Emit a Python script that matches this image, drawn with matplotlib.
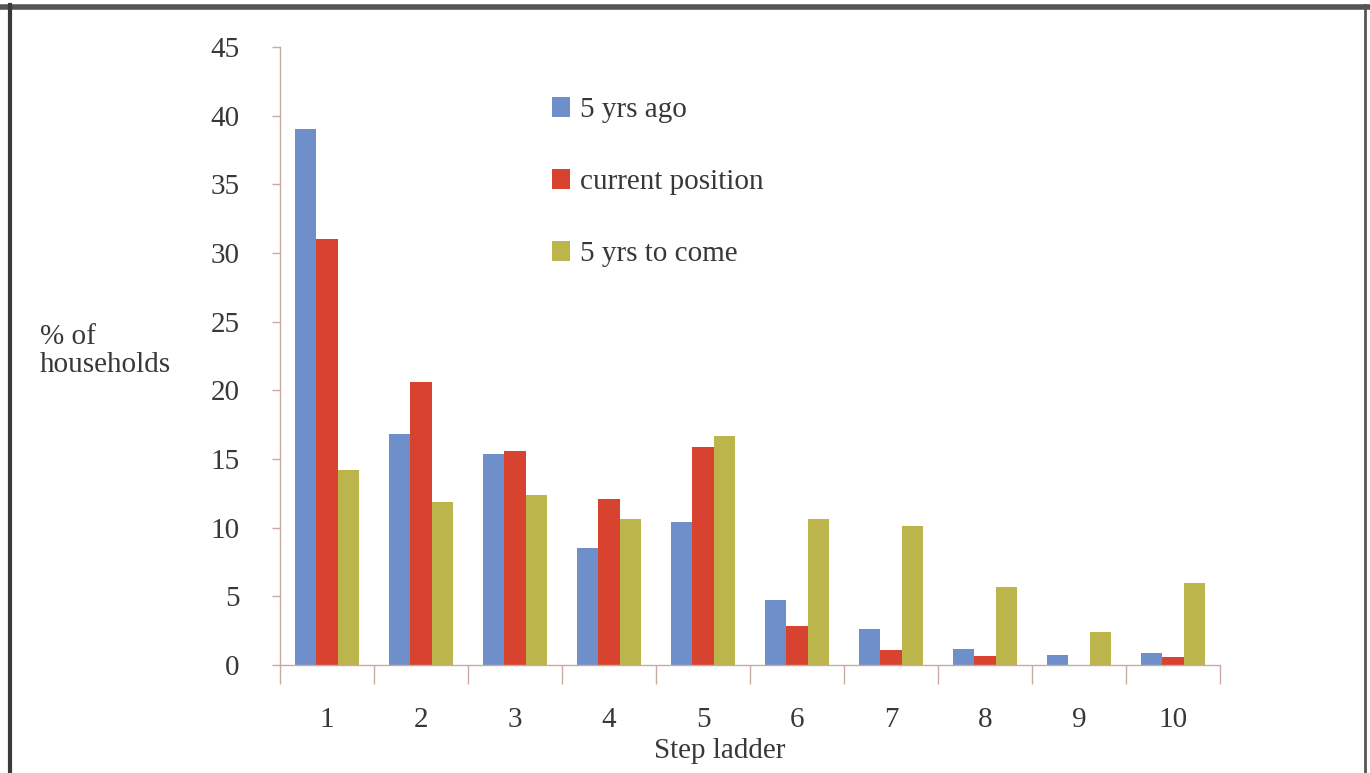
import numpy as np
import matplotlib.pyplot as plt
from matplotlib.lines import Line2D

plt.rcParams["font.family"] = ["Liberation Serif", "DejaVu Serif"]

steps = ["1", "2", "3", "4", "5", "6", "7", "8", "9", "10"]
yrs_ago = [39.0, 16.8, 15.4, 8.5, 10.4, 4.7, 2.6, 1.2, 0.7, 0.85]
current = [31.0, 20.6, 15.6, 12.1, 15.9, 2.85, 1.1, 0.65, 0.0, 0.6]
yrs_to_come = [14.2, 11.9, 12.4, 10.6, 16.7, 10.6, 10.1, 5.7, 2.4, 6.0]

series = [
    ("5 yrs ago", yrs_ago, "#6f8fcb"),
    ("current position", current, "#d8432f"),
    ("5 yrs to come", yrs_to_come, "#bcb54c"),
]

text_col = "#383838"
axis_col = "#c9aaa2"
fs = 21

fig = plt.figure(figsize=(13.7, 7.73), dpi=100)
ax = fig.add_axes([0.2044, 0.1397, 0.6861, 0.7995])

x = np.arange(len(steps))
w = 0.225
for i, (name, vals, col) in enumerate(series):
    ax.bar(x + (i - 1) * w, vals, width=w, color=col, label=name, linewidth=0)

ax.set_xlim(-0.5, len(steps) - 0.5)
ax.set_ylim(0, 45)
ax.set_yticks(np.arange(0, 46, 5))

# category labels sit between the boundary tick marks
ax.set_xticks(x)
ax.set_xticklabels(steps)
ax.tick_params(axis="x", length=0, pad=30, labelsize=fs, labelcolor=text_col)
ax.set_xticks(np.arange(-0.5, len(steps)), minor=True)
ax.tick_params(axis="x", which="minor", length=14, width=1, color=axis_col)
ax.tick_params(axis="y", length=6, width=1, color=axis_col, pad=23,
               labelsize=fs, labelcolor=text_col)

for s in ["top", "right"]:
    ax.spines[s].set_visible(False)
for s in ["left", "bottom"]:
    ax.spines[s].set_color(axis_col)
    ax.spines[s].set_linewidth(1)

ax.set_xlabel("Step ladder", fontsize=fs, color=text_col)
ax.xaxis.set_label_coords(0.468, -0.118)
fig.text(0.029, 0.546, "% of\nhouseholds", fontsize=fs, color=text_col,
         ha="left", va="center", linespacing=1.1)

ax.legend(loc="upper left", bbox_to_anchor=(0.289, 0.919), frameon=False,
          borderaxespad=0, borderpad=0, fontsize=fs, labelcolor=text_col,
          handlelength=0.62, handleheight=0.68, handletextpad=0.35,
          labelspacing=1.57)

# page edges
fig.add_artist(Line2D([0, 1], [0.991, 0.991], color="#555555", lw=4))
fig.add_artist(Line2D([0.007, 0.007], [0, 0.993], color="#3a3a3a", lw=3))
fig.add_artist(Line2D([0.9965, 0.9965], [0, 0.993], color="#555555", lw=2))

fig.savefig("out.png", dpi=100)
